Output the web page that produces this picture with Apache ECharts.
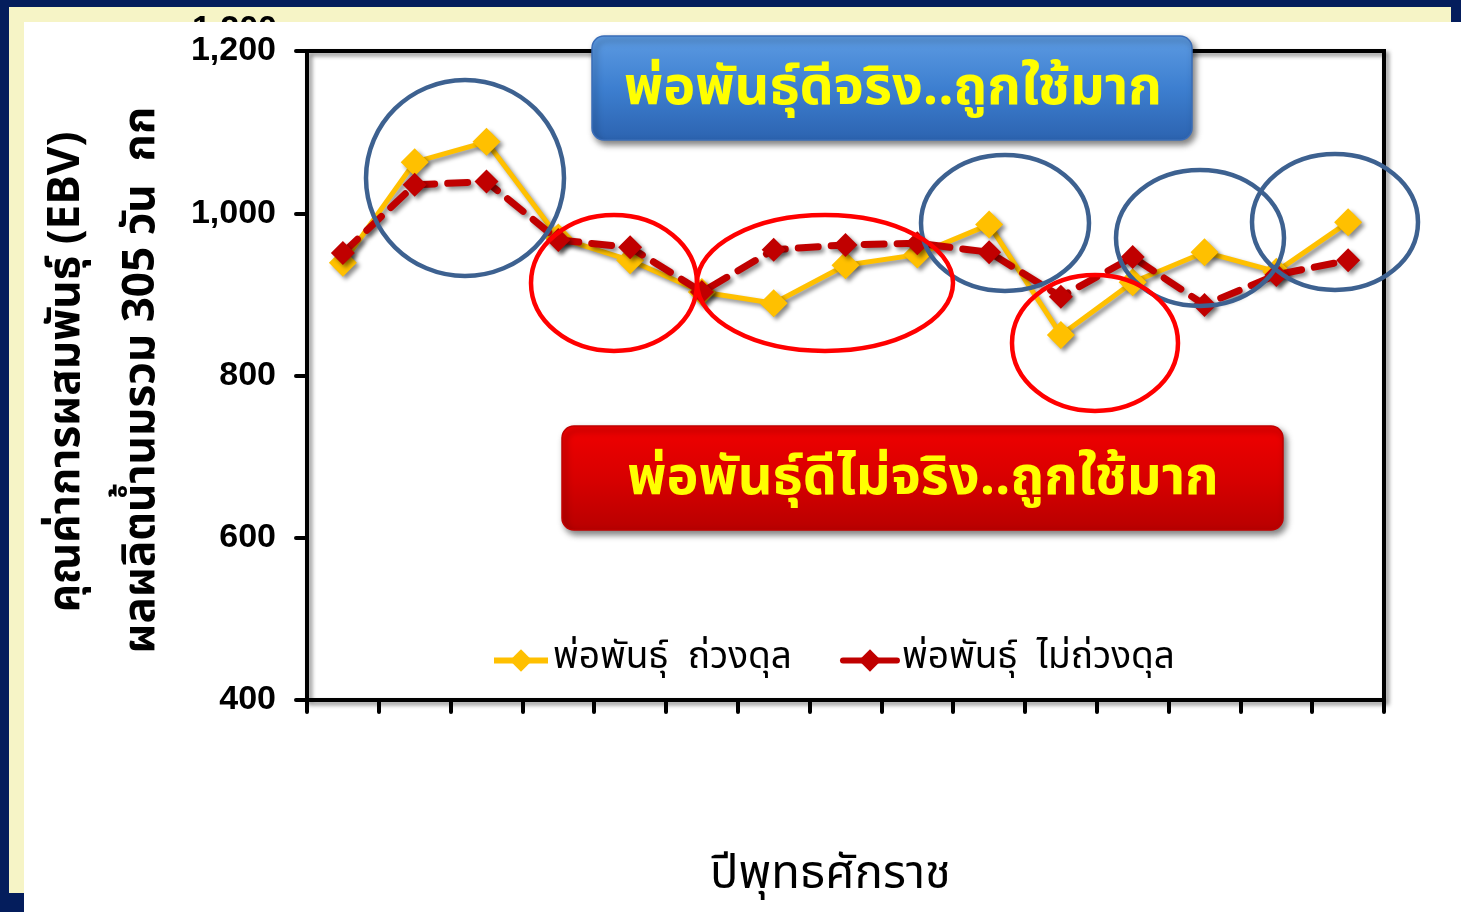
<!DOCTYPE html>
<html><head><meta charset="utf-8">
<script src="https://cdn.jsdelivr.net/npm/echarts@6/dist/echarts.min.js"></script>
<style>html,body{margin:0;padding:0;background:#041d5c;}#c{width:1461px;height:912px;}</style>
</head><body><div id="c"></div>
<script>
// 15 years (unlabelled on the original axis)
const categories = ['1','2','3','4','5','6','7','8','9','10','11','12','13','14','15'];
const seriesNames = ['พ่อพันธุ์  ถ่วงดุล', 'พ่อพันธุ์  ไม่ถ่วงดุล'];
const balanced   = [939, 1063, 1088, 970, 942, 903, 889, 936, 949, 986, 850, 915, 952, 928, 989];
const unbalanced = [951, 1035, 1039, 967, 958, 903, 955, 961, 963, 952, 897, 946, 887, 924, 942];
const yMin = 400, yMax = 1200, yStep = 200;
const yTitle1 = 'คุณค่าการผสมพันธุ์ (EBV)';
const yTitle2 = 'ผลผลิตน้ำนมรวม 305 วัน  กก';
const xTitle = 'ปีพุทธศักราช';
const boxGood = 'พ่อพันธุ์ดีจริง..ถูกใช้มาก';
const boxBad = 'พ่อพันธุ์ดีไม่จริง..ถูกใช้มาก';

const thai = '"Noto Sans Thai", "Noto Sans", "DejaVu Sans", sans-serif';
const shadow = {shadowColor:'rgba(0,0,0,0.45)', shadowBlur:4, shadowOffsetX:3, shadowOffsetY:3};

const chart = echarts.init(document.getElementById('c'));
function ell(cx, cy, rx, ry, color){
  return {type:'ellipse', z:5, shape:{cx, cy, rx, ry}, style:{fill:'none', stroke:color, lineWidth:4.5}};
}
const option = {
  backgroundColor:'#041d5c',
  animation:false,
  grid:{left:307, right:77, top:51, bottom:212, show:true, borderColor:'#000', borderWidth:4,
        backgroundColor:'rgba(0,0,0,0)', ...shadow},
  legend:{left:486, top:637, itemWidth:54, itemHeight:28, itemGap:48,
          lineStyle:{width:6, type:'solid'},
          textStyle:{fontSize:37, color:'#000', fontFamily:thai}},
  xAxis:{type:'category', data:categories, boundaryGap:true,
         axisLine:{lineStyle:{color:'#000', width:4, cap:'round'}},
         axisTick:{show:true, length:12, lineStyle:{color:'#000', width:4, cap:'round'}},
         axisLabel:{show:false},
         name:xTitle, nameLocation:'middle', nameGap:155,
         nameTextStyle:{fontSize:47, color:'#000', fontFamily:thai, padding:[0,30,0,0]}},
  yAxis:{type:'value', min:yMin, max:yMax, interval:yStep,
         axisLine:{show:true, lineStyle:{color:'#000', width:4}},
         axisTick:{show:true, length:11, lineStyle:{color:'#000', width:4, cap:'round'}},
         splitLine:{show:false},
         axisLabel:{margin:31, fontSize:34, fontWeight:'bold', color:'#000', fontFamily:'"Liberation Sans", Arial, sans-serif',
                    formatter:v=>v.toLocaleString('en-US')}},
  series:[
    {name:seriesNames[0], type:'line', data:balanced, z:3,
     symbol:'diamond', symbolSize:28,
     itemStyle:{color:'#ffc000', ...shadow},
     lineStyle:{color:'#ffc000', width:5, ...shadow}},
    {name:seriesNames[1], type:'line', data:unbalanced, z:4,
     symbol:'diamond', symbolSize:24,
     itemStyle:{color:'#c00000', ...shadow},
     lineStyle:{color:'#c00000', width:7, type:[20,13], cap:'round', ...shadow}}
  ],
  graphic:[
    {type:'rect', z:-20, shape:{x:9, y:7, width:1442, height:886}, style:{fill:'#f6f4c6'}},
    {type:'text', z:-19, style:{text:'1,200', x:277, y:13, align:'right', verticalAlign:'top',
      font:'bold 34px "Liberation Sans", Arial, sans-serif', fill:'#000'}},
    {type:'rect', z:-18, shape:{x:24, y:22, width:1437, height:890}, style:{fill:'#ffffff'}},
    {type:'text', z:6, rotation:Math.PI/2, x:70, y:372,
     style:{text:yTitle1, align:'center', verticalAlign:'middle', font:'bold 44px '+thai, fill:'#000'}},
    {type:'text', z:6, rotation:Math.PI/2, x:145, y:380,
     style:{text:yTitle2, align:'center', verticalAlign:'middle', font:'bold 44px '+thai, fill:'#000'}},
    ell(465,178,99,98,'#3d6190'),
    ell(1005,223,84,68,'#3d6190'),
    ell(1200,238,84,68,'#3d6190'),
    ell(1335,222,83,68,'#3d6190'),
    ell(614,283,83,68,'#ff0000'),
    ell(825,283,128,68,'#ff0000'),
    ell(1095,343,83,68,'#ff0000'),
    {type:'rect', z:7, shape:{x:592, y:36, width:600, height:104, r:12},
     style:{fill:new echarts.graphic.LinearGradient(0,0,0,1,[{offset:0,color:'#5d9be2'},{offset:0.5,color:'#3d7fd0'},{offset:1,color:'#2c63b0'}]),
            stroke:'#3a6db8', lineWidth:1.5, shadowColor:'rgba(0,0,0,0.5)', shadowBlur:6, shadowOffsetX:3, shadowOffsetY:4}},
    {type:'text', z:8, x:893, y:93,
     style:{text:boxGood, align:'center', verticalAlign:'middle', font:'bold 54px '+thai, fill:'#ffff00',
            shadowColor:'rgba(0,0,0,0.85)', shadowBlur:3, shadowOffsetX:2, shadowOffsetY:3}},
    {type:'rect', z:7, shape:{x:562, y:426, width:721, height:104, r:12},
     style:{fill:new echarts.graphic.LinearGradient(0,0,0,1,[{offset:0,color:'#f00000'},{offset:0.5,color:'#d80000'},{offset:1,color:'#b80000'}]),
            stroke:'#c00000', lineWidth:1.5, shadowColor:'rgba(0,0,0,0.5)', shadowBlur:6, shadowOffsetX:3, shadowOffsetY:4}},
    {type:'text', z:8, x:923, y:483,
     style:{text:boxBad, align:'center', verticalAlign:'middle', font:'bold 54px '+thai, fill:'#ffff00',
            shadowColor:'rgba(0,0,0,0.85)', shadowBlur:3, shadowOffsetX:2, shadowOffsetY:3}}
  ]
};
chart.setOption(option);
</script></body></html>
